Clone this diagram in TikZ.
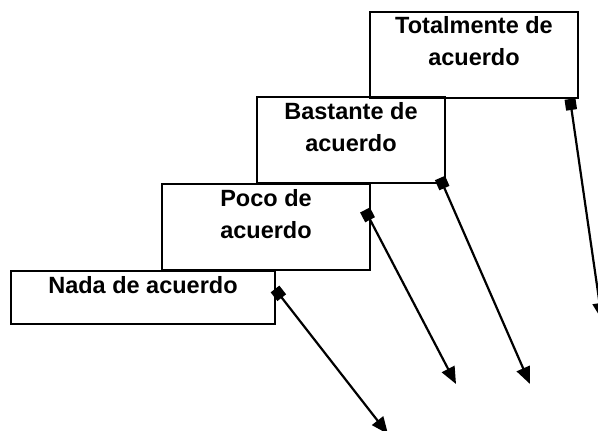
\documentclass[tikz,border=0pt]{standalone}
\usepackage{fontspec}
\setmainfont{Liberation Sans}
\usetikzlibrary{arrows.meta}
\tikzset{
  box/.style={draw=black, line width=2.2pt, fill=none, inner sep=0pt},
  lbl/.style={anchor=north, align=center, inner sep=0pt,
    font=\bfseries\fontsize{23.5pt}{32pt}\selectfont},
  conn/.style={line width=2.2pt, {Square[length=11pt,width=11pt]}-{Triangle[length=17pt,width=14pt]}}
}
\begin{document}
\begin{tikzpicture}[x=1pt,y=-1pt]
\useasboundingbox (0,0) rectangle (598,431);
\draw[box] (370,12) rectangle (578,98);
\draw[box] (257,97) rectangle (445,183);
\draw[box] (162,184) rectangle (370,270);
\draw[box] (11,271) rectangle (275,324);
\node[lbl] (t1) at (474,16) {Totalmente de\\acuerdo};
\node[lbl] (t2) at (351,102) {Bastante de\\acuerdo};
\node[lbl] (t3) at (266,189) {Poco de\\acuerdo};
\node[lbl] (t4) at (143,276) {Nada de acuerdo};
\coordinate (s1) at (570,99);
\coordinate (e1) at (602,320);
\coordinate (s2) at (440,178);
\coordinate (e2) at (530,384);
\coordinate (s3) at (365,210);
\coordinate (e3) at (456,384);
\coordinate (s4) at (275,289);
\coordinate (e4) at (388,434);
\draw[conn] (s1) -- (e1);
\draw[conn] (s2) -- (e2);
\draw[conn] (s3) -- (e3);
\draw[conn] (s4) -- (e4);
\end{tikzpicture}
\end{document}
